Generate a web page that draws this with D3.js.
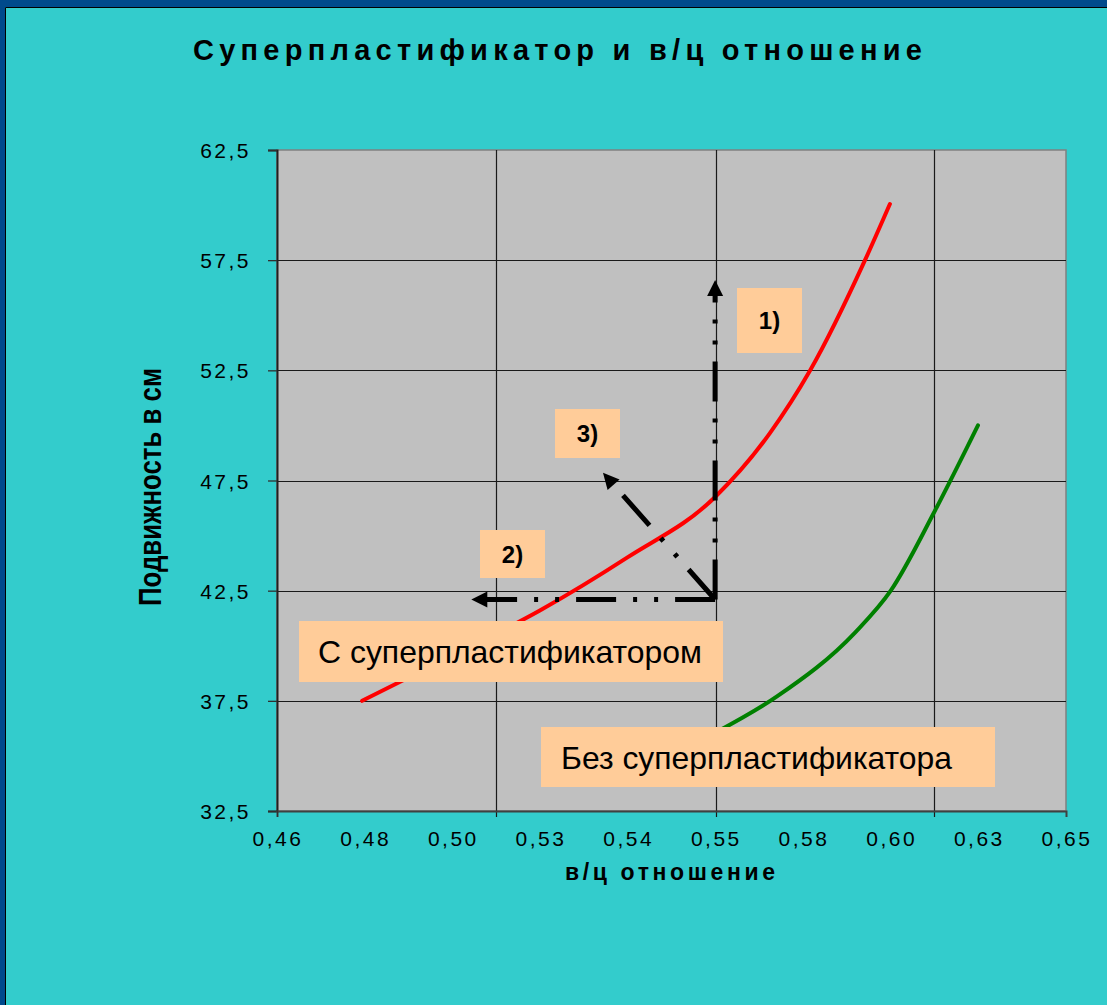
<!DOCTYPE html>
<meta charset="UTF-8">
<head>
<script src="https://d3js.org/d3.v7.min.js"></script>
<style>
  body { margin: 0; background: #33cccc; }
  text { font-family: "Liberation Sans", Arial, sans-serif; }
</style>
</head>
<body>
<div id="chart"></div>
<script>

// ---- data ----
var xTickLabels = ["0,46", "0,48", "0,50", "0,53", "0,54", "0,55", "0,58", "0,60", "0,63", "0,65"];
var yTicks = [32.5, 37.5, 42.5, 47.5, 52.5, 57.5, 62.5];
var xGrid = [0.5128, 0.5656, 0.6183];

// with superplasticizer (red)
var withSP_wc    = [0.4805, 0.5017, 0.5233, 0.5443, 0.5655, 0.5787, 0.5884, 0.6016, 0.6076];
var withSP_slump = [37.5,   39.5,   41.6,   44.0,   46.75,  49.65,  52.5,   57.5,   60.05];

// without superplasticizer (green)
var noSP_wc    = [0.5655, 0.5804, 0.5992, 0.6078, 0.6185, 0.6288];
var noSP_slump = [36.05,  37.7,   40.6,   42.5,   46.15,  50.0];

// arrows 1) 2) 3): common start and the three tips
var arrowStart = [0.5655, 42.1];
var arrowTips = [[0.5655, 56.6], [0.5068, 42.1], [0.5385, 47.85]];

var W = 1107, H = 1005;
var plot = {left: 277, right: 1066, top: 150, bottom: 811};

var svg = d3.select("#chart").append("svg")
    .attr("width", W)
    .attr("height", H);

// background + frame
svg.append("rect").attr("width", W).attr("height", H).attr("fill", "#33cccc");
svg.append("rect").attr("x", 0).attr("y", 0).attr("width", W).attr("height", 7).attr("fill", "#004a8c");
svg.append("rect").attr("x", 0).attr("y", 0).attr("width", 5).attr("height", H).attr("fill", "#004a8c");
svg.append("path").attr("d", "M5.5," + H + "V7.5H" + W)
    .attr("fill", "none").attr("stroke", "#000").attr("stroke-width", 1);

var x = d3.scaleLinear().domain([0.46, 0.65]).range([plot.left, plot.right]);
var y = d3.scaleLinear().domain([32.5, 62.5]).range([plot.bottom, plot.top]);

// plot area
svg.append("rect")
    .attr("x", plot.left).attr("y", plot.top)
    .attr("width", plot.right - plot.left).attr("height", plot.bottom - plot.top)
    .attr("fill", "#c0c0c0")
    .attr("stroke", "#808080").attr("stroke-width", 1.5);

// grid
svg.append("g").selectAll("line").data(yTicks.slice(1, -1)).join("line")
    .attr("x1", plot.left).attr("x2", plot.right)
    .attr("y1", function(d) { return Math.round(y(d)) + 0.5; })
    .attr("y2", function(d) { return Math.round(y(d)) + 0.5; })
    .attr("stroke", "#1a1a1a").attr("stroke-width", 1.2);

svg.append("g").selectAll("line").data(xGrid).join("line")
    .attr("y1", plot.top).attr("y2", plot.bottom + 6)
    .attr("x1", function(d) { return Math.round(x(d)) + 0.5; })
    .attr("x2", function(d) { return Math.round(x(d)) + 0.5; })
    .attr("stroke", "#1a1a1a").attr("stroke-width", 1.2);

// axes
var xTickVals = xTickLabels.map(function(d, i) { return 0.46 + i * 0.19 / 9; });

var yAxis = d3.axisLeft(y).tickValues(yTicks).tickSize(9).tickPadding(17)
    .tickFormat(function(d) { return d3.format(".1f")(d).replace(".", ","); });
var gy = svg.append("g").attr("transform", "translate(" + plot.left + ",0)").call(yAxis);
gy.select(".domain").attr("stroke", "#202020").attr("stroke-width", 2);
gy.selectAll(".tick line").attr("stroke", "#303030").attr("stroke-width", 1.3);
gy.selectAll(".tick text").attr("font-size", 21).attr("fill", "#000")
    .attr("letter-spacing", "2.5px").attr("dy", "0.36em");

var xAxis = d3.axisBottom(x).tickValues(xTickVals.filter(function(d, i) { return i === 0; }))
    .tickSize(6).tickFormat("");
var gx = svg.append("g").attr("transform", "translate(0," + plot.bottom + ")").call(xAxis);
gx.select(".domain").attr("stroke", "#404040").attr("stroke-width", 2);
gx.selectAll(".tick line").attr("stroke", "#303030");

svg.append("g").selectAll("text").data(xTickLabels).join("text")
    .attr("x", function(d, i) { return x(xTickVals[i]) + 1; })
    .attr("y", 846)
    .attr("text-anchor", "middle")
    .attr("font-size", 21)
    .attr("letter-spacing", "2.5px")
    .text(function(d) { return d; });

// curves
var line = d3.line()
    .x(function(d) { return x(d[0]); })
    .y(function(d) { return y(d[1]); })
    .curve(d3.curveMonotoneX);

svg.append("path")
    .datum(withSP_wc.map(function(d, i) { return [d, withSP_slump[i]]; }))
    .attr("d", line)
    .attr("fill", "none").attr("stroke", "#ff0000").attr("stroke-width", 4)
    .attr("stroke-linecap", "round");

svg.append("path")
    .datum(noSP_wc.map(function(d, i) { return [d, noSP_slump[i]]; }))
    .attr("d", line)
    .attr("fill", "none").attr("stroke", "#008000").attr("stroke-width", 4)
    .attr("stroke-linecap", "round");

// dash-dot-dot arrows
var sx = x(arrowStart[0]), sy = y(arrowStart[1]);
arrowTips.forEach(function(t) {
  var tx = x(t[0]), ty = y(t[1]);
  var dx = tx - sx, dy = ty - sy, len = Math.sqrt(dx * dx + dy * dy);
  var ux = dx / len, uy = dy / len;
  var head = 16, half = 8;
  var bx = tx - ux * head, by = ty - uy * head;
  svg.append("line")
      .attr("x1", sx).attr("y1", sy).attr("x2", bx + ux * 2).attr("y2", by + uy * 2)
      .attr("stroke", "#000").attr("stroke-width", 5)
      .attr("stroke-dasharray", "40,17,4,17,4,17");
  svg.append("path")
      .attr("d", "M" + tx + "," + ty +
                 "L" + (bx - uy * half) + "," + (by + ux * half) +
                 "L" + (bx + uy * half) + "," + (by - ux * half) + "Z")
      .attr("fill", "#000");
});

// labels in peach boxes
var boxes = [
  {x: 737, y: 288, w: 65, h: 65, text: "1)", size: 24, bold: true},
  {x: 480, y: 530, w: 65, h: 48, text: "2)", size: 24, bold: true},
  {x: 555, y: 409, w: 65, h: 49, text: "3)", size: 24, bold: true},
  {x: 299, y: 621, w: 424, h: 61, text: "С суперпластификатором", size: 32, bold: false, tx: 318, len: 384},
  {x: 541, y: 727, w: 454, h: 60, text: "Без суперпластификатора", size: 32, bold: false, tx: 561, len: 391}
];
var gb = svg.append("g").selectAll("g").data(boxes).join("g");
gb.append("rect")
    .attr("x", function(d) { return d.x; }).attr("y", function(d) { return d.y; })
    .attr("width", function(d) { return d.w; }).attr("height", function(d) { return d.h; })
    .attr("fill", "#ffcc99");
gb.append("text")
    .attr("x", function(d) { return d.tx ? d.tx : d.x + d.w / 2; })
    .attr("y", function(d) { return d.y + d.h / 2 + d.size * 0.36; })
    .attr("text-anchor", function(d) { return d.tx ? "start" : "middle"; })
    .attr("font-size", function(d) { return d.size; })
    .attr("font-weight", function(d) { return d.bold ? "bold" : "normal"; })
    .each(function(d) {
      if (d.len) d3.select(this).attr("textLength", d.len).attr("lengthAdjust", "spacingAndGlyphs");
    })
    .text(function(d) { return d.text; });

// titles
svg.append("text")
    .attr("x", 193).attr("y", 60)
    .attr("font-size", 29).attr("font-weight", "bold")
    .attr("textLength", 729).attr("lengthAdjust", "spacing")
    .text("Суперпластификатор и в/ц отношение");

svg.append("text")
    .attr("x", 565).attr("y", 880)
    .attr("font-size", 23).attr("font-weight", "bold")
    .attr("textLength", 210).attr("lengthAdjust", "spacing")
    .text("в/ц отношение");

svg.append("text")
    .attr("transform", "translate(161,487) rotate(-90)")
    .attr("text-anchor", "middle")
    .attr("font-size", 31).attr("font-weight", "bold")
    .attr("textLength", 238).attr("lengthAdjust", "spacingAndGlyphs")
    .text("Подвижность в см");

</script>
</body>
